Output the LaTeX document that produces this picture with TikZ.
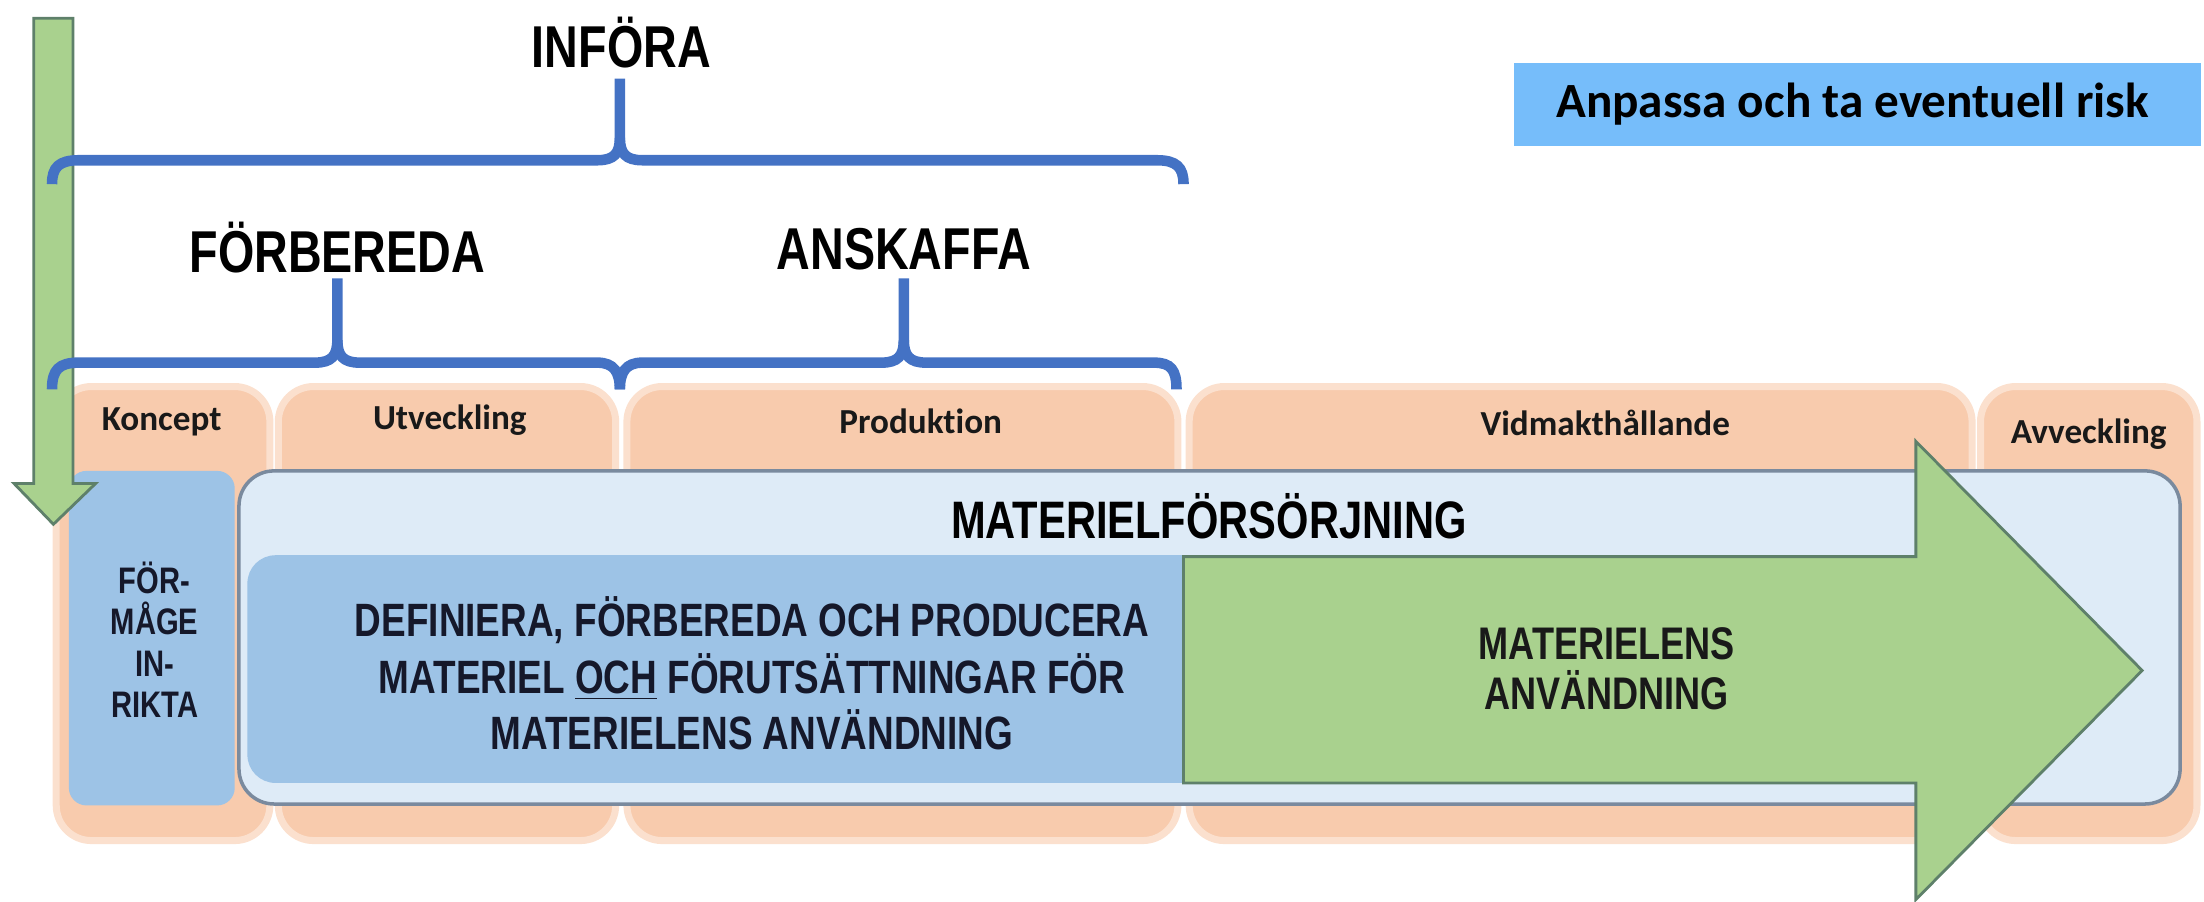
\documentclass[tikz,border=0pt]{standalone}
\usepackage{fontspec}
\setmainfont{Carlito}[Ligatures=NoCommon,RawFeature={-liga;-clig;-calt}]
\newfontfamily\dinfont[FakeStretch=0.79]{Liberation Sans}
\definecolor{peach}{HTML}{F8CBAD}
\definecolor{midblue}{HTML}{9DC3E6}
\definecolor{lightblue}{HTML}{DEEBF7}
\definecolor{grn}{HTML}{A9D18E}
\definecolor{bracecol}{HTML}{4472C4}
\definecolor{skyb}{HTML}{76BDFA}
\definecolor{edgegray}{HTML}{7A8A9E}
\definecolor{grnedge}{HTML}{5E806A}
\definecolor{navytext}{HTML}{15182A}
\begin{document}
\begin{tikzpicture}[x=0.014056cm,y=-0.014056cm,
  phase/.style={fill=peach,draw=peach!60,line width=2pt,rounded corners=10pt},
  brace/.style={draw=bracecol,line width=3pt},
  head/.style={font=\dinfont\bfseries\fontsize{16.8}{19}\selectfont,inner sep=0pt,text=black},
  lab/.style={font=\bfseries\fontsize{10}{12}\selectfont,inner sep=0pt,text=black!90},
  din/.style={font=\dinfont\bfseries,inner sep=0pt,align=center}]
\useasboundingbox (0,0) rectangle (1568,641.7);
% phase boxes
\draw[phase] (40,275) rectangle (192,598);
\draw[phase] (198,275) rectangle (438,598);
\draw[phase] (446,275) rectangle (838,598);
\draw[phase] (846,275) rectangle (1403,598);
\draw[phase] (1409,275) rectangle (1563,598);
\node[lab] (koncept) at (115,300) {Koncept};
\node[lab] (utv) at (320,299) {Utveckling};
\node[lab] (prod) at (655,300) {Produkt\kern0pt ion};
\node[lab] (vidm) at (1142,301) {Vidmakthållande};
\node[lab] (avv) at (1486,309) {Avveckling};
% capability box
\fill[midblue,rounded corners=5pt] (49,335) rectangle (167,573);
\node[din,font=\dinfont\bfseries\fontsize{10.5}{11.8}\selectfont,text=navytext] (formaga) at (110,455) {FÖR-\\MÅGE\\IN-\\RIKTA};
% materielforsorjning box
\draw[fill=lightblue,draw=edgegray,line width=1pt,rounded corners=10pt] (170,335) rectangle (1551,572);
\node[din,font=\dinfont\bfseries\fontsize{15}{17}\selectfont,text=black] (mfs) at (860,367) {MATERIELFÖRSÖRJNING};
\fill[midblue,rounded corners=8pt] (176,395) rectangle (870,557);
\node[din,font=\dinfont\bfseries\fontsize{13.3}{16}\selectfont,text=navytext] (def) at (535,479) {DEFINIERA, FÖRBEREDA OCH PRODUCERA\\MATERIEL \underline{OCH} FÖRUTSÄTTNINGAR FÖR\\MATERIELENS ANVÄNDNING};
% big green arrow
\draw[fill=grn,draw=grnedge,line width=0.8pt] (842,396) -- (1363,396) -- (1363,314) -- (1524,477) -- (1363,640) -- (1363,557) -- (842,557) -- cycle;
\node[din,font=\dinfont\bfseries\fontsize{13}{14.3}\selectfont,text=black!90] (anv) at (1143,476) {MATERIELENS\\ANVÄNDNING};
% down arrow
\draw[fill=grn,draw=grnedge,line width=0.8pt] (24,13) -- (52,13) -- (52,344) -- (68,344) -- (38,373) -- (10,344) -- (24,344) -- cycle;
% headings
\node[head] (infora) at (442,30) {INFÖRA};
\node[head] (forbereda) at (240,176) {FÖRBEREDA};
\node[head] (anskaffa) at (643,177) {ANSKAFFA};
% braces
\draw[brace] (37,131) .. controls (37,119) and (42,114) .. (56,114) -- (425,114) .. controls (437,114) and (441,109) .. (441,98) -- (441,56);
\draw[brace] (441,98) .. controls (441,109) and (445,114) .. (457,114) -- (823,114) .. controls (837,114) and (842,119) .. (842,131);
\draw[brace] (37,277) .. controls (37,263) and (42,258) .. (56,258) -- (224,258) .. controls (236,258) and (240,253) .. (240,242) -- (240,198);
\draw[brace] (240,242) .. controls (240,253) and (244,258) .. (256,258) -- (425,258) .. controls (437,258) and (441,265) .. (441,277);
\draw[brace] (441,277) .. controls (441,265) and (445,258) .. (457,258) -- (627,258) .. controls (639,258) and (643,253) .. (643,242) -- (643,198);
\draw[brace] (643,242) .. controls (643,253) and (647,258) .. (659,258) -- (821,258) .. controls (833,258) and (837,263) .. (837,277);
% risk box
\fill[skyb] (1077,45) rectangle (1566,104);
\node[font=\bfseries\fontsize{14}{16}\selectfont,inner sep=0pt,text=black] (risk) at (1318,74) {Anpassa och ta eventuell risk};
\end{tikzpicture}
\end{document}
